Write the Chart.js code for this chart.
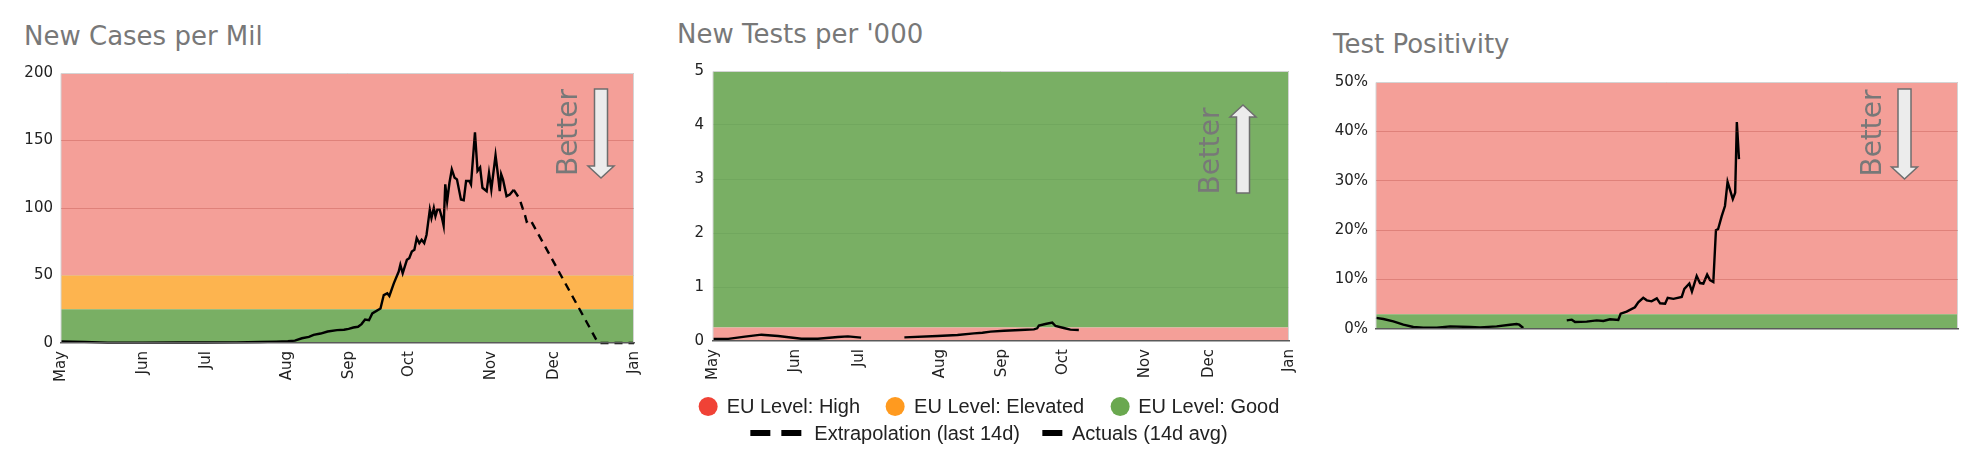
<!DOCTYPE html>
<html>
<head>
<meta charset="utf-8">
<script src="https://cdn.jsdelivr.net/npm/chart.js@4.4.1/dist/chart.umd.min.js"></script>
<style>
html,body{margin:0;padding:0;background:#fff;}
body{width:1970px;height:462px;position:relative;overflow:hidden;font-family:'DejaVu Sans',sans-serif;}
canvas{position:absolute;top:0;}
.title{position:absolute;font-size:26px;line-height:26px;color:#787878;white-space:nowrap;}
.legend-row{position:absolute;left:989px;transform:translateX(-50%);display:flex;align-items:center;white-space:nowrap;font-family:'Liberation Sans',Arial,sans-serif;font-size:20px;line-height:22px;color:#222;}
.item{display:flex;align-items:center;}
.dot{width:19px;height:19px;border-radius:50%;margin-right:9px;}
.dash{width:20px;height:6px;background:#000;}
</style>
</head>
<body>
<div class="title" style="left:24px;top:23px;">New Cases per Mil</div>
<div class="title" style="left:677px;top:21px;">New Tests per '000</div>
<div class="title" style="left:1333px;top:31px;">Test Positivity</div>

<canvas id="c1" width="660" height="400" style="left:0px;width:660px;height:400px;"></canvas>
<canvas id="c2" width="655" height="400" style="left:660px;width:655px;height:400px;"></canvas>
<canvas id="c3" width="655" height="400" style="left:1315px;width:655px;height:400px;"></canvas>

<div class="legend-row" style="top:395px;">
  <div class="item"><div class="dot" style="background:#F04236"></div>EU Level: High</div>
  <div class="item" style="margin-left:26px;"><div class="dot" style="background:#FF9A1F"></div>EU Level: Elevated</div>
  <div class="item" style="margin-left:26px;"><div class="dot" style="background:#6AA84F"></div>EU Level: Good</div>
</div>
<div class="legend-row" style="top:422px;">
  <div class="item"><div class="dash"></div><div class="dash" style="margin-left:11px;margin-right:13px;"></div>Extrapolation (last 14d)</div>
  <div class="item" style="margin-left:22px;"><div class="dash" style="margin-right:10px;"></div>Actuals (14d avg)</div>
</div>

<script>
// ---------- data ----------
const monthLabels  = ['May','Jun','Jul','Aug','Sep','Oct','Nov','Dec','Jan'];
const monthTickPos = [0, 35, 62, 96.5, 123, 149, 184, 211, 245];
const axisMax = 245;

// New cases per million: [axis day, value]
const casesActual = [
 [0,1.1],[10,0.8],[20,0.3],[35,0.3],[50,0.4],[62,0.4],[75,0.5],[85,0.7],[92,1.0],[97,1.3],
 [100,1.8],[103,3.5],[106,4.5],[108,6],[111,7],[114,8.5],[118,9.5],[121,9.8],[123,10.5],[125,11.5],
 [127,12],[128.5,14],[130,17.4],[131.7,16.9],[133.1,21.9],[136.6,25.6],[138,35.5],[139.5,36.8],[140.4,34.8],[142.3,44.2],
 [144.4,52.9],[145.1,57.9],[146.1,51.7],[147.9,61.6],[148.9,62.8],[150,67.8],[151.1,69],[152.1,77.7],[153.2,74],[154.2,76.5],
 [155.3,74],[156.3,80.2],[157.7,98.8],[158.4,92.6],[159.4,100],[160.1,93.9],[160.9,98.8],[161.9,98.8],[162.9,92.6],[163.6,86.9],
 [164.3,117.5],[165.1,105],[166.1,118.7],[167.1,128.6],[168.3,122.4],[169.3,121.2],[171,106.3],[172.2,105.8],[173.2,120],[174.6,120],
 [175.3,117.5],[177,156],[178.1,127.4],[179.2,130],[180.2,115],[182,112.5],[183,126],[184,113.7],[185.8,139],[186.8,125],
 [187.6,112.5],[188.2,125],[189,121],[190.5,108.8],[191.9,110],[193.6,113.5]
];
const casesExtrap = [[193.6,113.5],[196,107],[198.5,94],[199.1,89.9],[200.6,91.6],[229.5,0.5],[230.5,0],[245,0]];
const casesBands = [25, 50, 200];           // good / elevated / high upper limits

// New tests per thousand
const testsActual = [
 [0.1,0.04],[6.5,0.04],[13.6,0.08],[20.6,0.117],[27.7,0.093],[37.6,0.043],[44.6,0.043],[53.1,0.074],[57.4,0.086],[63,0.062],
 [72,null],
 [81.4,0.068],[95.5,0.093],[104,0.111],[111,0.142],[114.6,0.154],[118.1,0.173],[123.8,0.191],[130.8,0.204],[136.5,0.216],
 [137.9,0.235],[138.6,0.284],[141.4,0.315],[144.3,0.34],[145.7,0.278],[149.2,0.241],[152,0.21],[155.6,0.204]
];
const testsBands = [0.25, 5];              // high (below) / good (above)

// Test positivity (%)
const positivityActual = [
 [0,2.24],[3.1,2.03],[7.3,1.55],[11.5,0.87],[15.7,0.40],[19.9,0.26],[25.6,0.26],[31.2,0.53],[39.6,0.40],[43.8,0.33],
 [50.8,0.53],[56.4,0.87],[59.2,1.0],[60.3,0.87],[62,0.2],
 [71,null],
 [80.3,1.75],[82.4,1.89],[83.8,1.42],[88.7,1.49],[92.9,1.75],[95.7,1.62],[98.5,1.96],[102,1.82],[103,3.11],[105.5,3.52],
 [109,4.4],[110.4,5.4],[112.5,6.3],[114,5.8],[116,5.6],[118.2,6.2],[119.6,5.2],[121.7,5.1],[122.8,6.3],[125.2,6.1],
 [128.7,6.5],[129.8,8.1],[131.9,9.2],[133,7.6],[135,10.7],[136.4,9.3],[137.8,9.2],[139.4,11.0],[140.6,9.9],[142,9.5],
 [143.1,20.0],[144,20.2],[145.5,22.8],[146.9,24.9],[148,29.8],[150.2,26.3],[151.2,27.6],[151.9,41.9],[152.8,34.4]
];
const positivityBands = [3, 50];           // good / high upper limits

// ---------- styling ----------
const RED_BAND = '#F49F98', ORANGE_BAND = '#FDB44F', GREEN_BAND = '#79AF64';
const RED_GRID = 'rgba(160,40,30,0.25)', GREEN_GRID = 'rgba(0,50,0,0.06)';

Chart.defaults.font.family = "'DejaVu Sans', sans-serif";
Chart.defaults.font.size = 15;
Chart.defaults.color = '#222';

const pts = arr => arr.map(([x, y]) => ({x, y}));
const band = (y, fill, color) => ({
  data: [{x: 0, y}, {x: axisMax, y}], fill, backgroundColor: color,
  borderWidth: 0, pointRadius: 0, order: 1
});
const lineDs = (arr, dashed) => ({
  data: pts(arr), borderColor: '#000', borderWidth: 2.4, pointRadius: 0,
  tension: 0, fill: false, spanGaps: false, borderDash: dashed ? [8, 6] : [], order: 0,
  clip: 4
});

const framePlugin = {
  id: 'frame',
  afterDatasetsDraw(chart) {
    const {ctx, chartArea: a} = chart;
    ctx.save();
    ctx.strokeStyle = '#d4d4d4';
    ctx.lineWidth = 1;
    ctx.beginPath();
    ctx.moveTo(a.left, a.bottom); ctx.lineTo(a.left, a.top + 0.5);
    ctx.lineTo(a.right - 0.5, a.top + 0.5); ctx.lineTo(a.right - 0.5, a.bottom);
    ctx.stroke();
    ctx.restore();
  }
};

const betterPlugin = {
  id: 'better',
  afterDraw(chart, args, o) {
    if (!o || !o.dir) return;
    const {ctx, chartArea: a} = chart;
    const cx = a.right - o.arrowDx;
    const y1 = a.top + o.start, y2 = a.top + o.end;
    const sw = 13, hw = 26, hl = 12;
    ctx.save();
    ctx.beginPath();
    if (o.dir === 'down') {
      ctx.moveTo(cx - sw/2, y1); ctx.lineTo(cx + sw/2, y1);
      ctx.lineTo(cx + sw/2, y2 - hl); ctx.lineTo(cx + hw/2, y2 - hl);
      ctx.lineTo(cx, y2); ctx.lineTo(cx - hw/2, y2 - hl);
      ctx.lineTo(cx - sw/2, y2 - hl);
    } else {
      ctx.moveTo(cx - sw/2, y2); ctx.lineTo(cx + sw/2, y2);
      ctx.lineTo(cx + sw/2, y1 + hl); ctx.lineTo(cx + hw/2, y1 + hl);
      ctx.lineTo(cx, y1); ctx.lineTo(cx - hw/2, y1 + hl);
      ctx.lineTo(cx - sw/2, y1 + hl);
    }
    ctx.closePath();
    ctx.fillStyle = '#ececec';
    ctx.fill();
    ctx.strokeStyle = '#6e6e6e';
    ctx.lineWidth = 1.5;
    ctx.stroke();
    ctx.translate(a.right - o.textDx, a.top + o.textDy);
    ctx.rotate(-Math.PI / 2);
    ctx.font = "28px 'DejaVu Sans', sans-serif";
    ctx.fillStyle = '#787878';
    ctx.textAlign = 'center';
    ctx.textBaseline = 'middle';
    ctx.fillText('Better', 0, 0);
    ctx.restore();
  }
};

function makeChart(id, cfg) {
  const gridColor = ctx => {
    const v = ctx.tick.value;
    if (v <= cfg.yMin || v >= cfg.yMax) return 'rgba(0,0,0,0)';
    const inRed = cfg.redAbove ? v > cfg.threshold : v < cfg.threshold;
    return inRed ? RED_GRID : GREEN_GRID;
  };
  return new Chart(document.getElementById(id), {
    type: 'line',
    data: { datasets: cfg.datasets },
    plugins: [framePlugin, betterPlugin],
    options: {
      responsive: false, animation: false, events: [],
      layout: { padding: { top: cfg.padTop, right: cfg.padRight, left: 0, bottom: 0 } },
      plugins: { legend: { display: false }, tooltip: { enabled: false }, better: cfg.better },
      scales: {
        x: {
          type: 'linear', min: 0, max: axisMax,
          afterBuildTicks: s => { s.ticks = monthTickPos.map(v => ({ value: v })); },
          afterFit: s => { s.height = cfg.xHeight; },
          grid: { display: false, drawTicks: false, z: 1 },
          border: { display: true, color: '#5a5a5a', width: 1.5, z: 1 },
          ticks: {
            display: cfg.showX, autoSkip: false, maxRotation: 90, minRotation: 90, padding: 8,
            callback: (v, i) => monthLabels[i]
          }
        },
        y: {
          min: cfg.yMin, max: cfg.yMax,
          afterFit: s => { s.width = cfg.yWidth; },
          grid: { drawTicks: false, color: gridColor, lineWidth: 1, z: 1 },
          border: { display: false },
          ticks: { stepSize: cfg.step, padding: cfg.yPad, callback: cfg.yFmt }
        }
      }
    }
  });
}

makeChart('c1', {
  datasets: [
    lineDs(casesActual, false), lineDs(casesExtrap, true),
    band(casesBands[0], 'origin', GREEN_BAND),
    band(casesBands[1], '-1', ORANGE_BAND),
    band(casesBands[2], '-1', RED_BAND)
  ],
  yMin: 0, yMax: 200, step: 50, threshold: 50, redAbove: true,
  yWidth: 61, yPad: 8, padTop: 73, padRight: 18, xHeight: 57, showX: true,
  yFmt: v => String(v),
  better: { dir: 'down', arrowDx: 33, start: 16, end: 105, textDx: 64.5, textDy: 59.5 }
});

makeChart('c2', {
  datasets: [
    lineDs(testsActual, false),
    band(testsBands[0], 'origin', RED_BAND),
    band(testsBands[1], '-1', GREEN_BAND)
  ],
  yMin: 0, yMax: 5, step: 1, threshold: 0.25, redAbove: false,
  yWidth: 53, yPad: 9, padTop: 71, padRight: 24, xHeight: 59, showX: true,
  yFmt: v => String(v),
  better: { dir: 'up', arrowDx: 46, start: 34, end: 122, textDx: 77.5, textDy: 80 }
});

makeChart('c3', {
  datasets: [
    lineDs(positivityActual, false),
    band(positivityBands[0], 'origin', GREEN_BAND),
    band(positivityBands[1], '-1', RED_BAND)
  ],
  yMin: 0, yMax: 50, step: 10, threshold: 3, redAbove: true,
  yWidth: 61, yPad: 8, padTop: 82, padRight: 12, xHeight: 71, showX: false,
  yFmt: v => v + '%',
  better: { dir: 'down', arrowDx: 53.5, start: 7, end: 97, textDx: 84.5, textDy: 51 }
});
</script>
</body>
</html>
